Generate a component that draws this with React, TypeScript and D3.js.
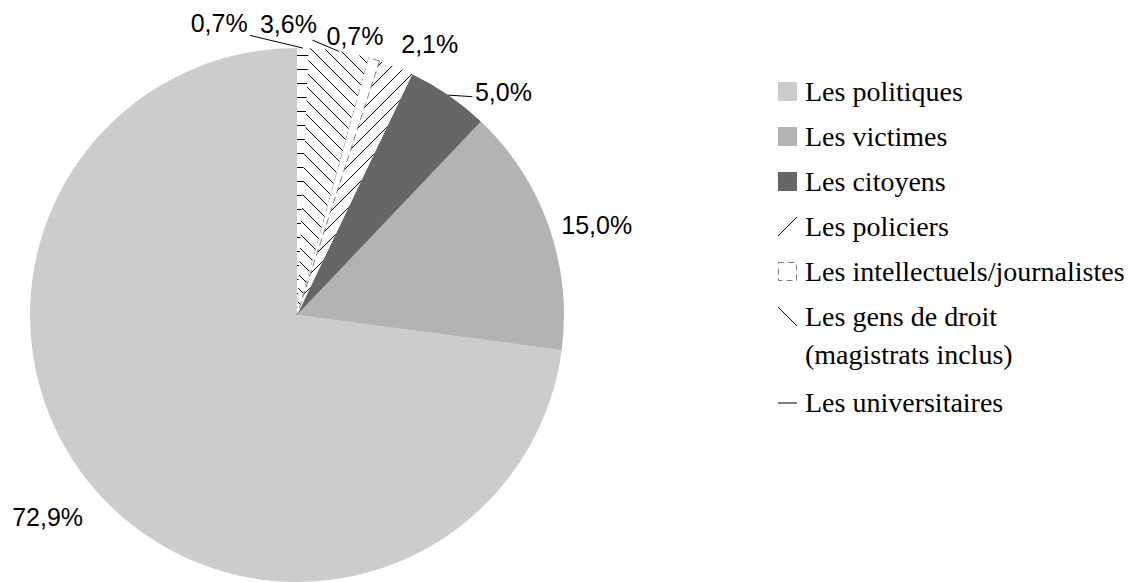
import React from "react";
import { pie, arc, format } from "d3";

// data
const categories = [
  "Les politiques",
  "Les victimes",
  "Les citoyens",
  "Les policiers",
  "Les intellectuels/journalistes",
  "Les gens de droit",
  "Les universitaires",
];
const legendLines = [
  ["Les politiques"],
  ["Les victimes"],
  ["Les citoyens"],
  ["Les policiers"],
  ["Les intellectuels/journalistes"],
  ["Les gens de droit", "(magistrats inclus)"],
  ["Les universitaires"],
];
const values = [72.9, 15.0, 5.0, 2.1, 0.7, 3.6, 0.7];

// styles per slice: plain fill or a hatch pattern
const fills = ["#cccccc", "#b3b3b3", "#666666", "url(#hatchUp)", "#ffffff", "url(#hatchDown)", "url(#hatchFlat)"];
const swatchKind = ["fill", "fill", "fill", "up", "dash", "down", "flat"];

// label placement: offset from slice mid angle (deg, clockwise) and radius
const labelShift = [2.2, 2.7, 8.2, 4.3, -5, -10.7, -16.2];
const labelRadius = [321, 313, 304, 302, 285, 291, 302];
const hasLeader = [false, false, true, false, false, true, true];

const W = 1144;
const H = 582;
const cx = 297;
const cy = 315;
const R = 267;

const serif = "'Liberation Serif', 'DejaVu Serif', 'Noto Serif', 'Times New Roman', Times, serif";
const sans = "'Liberation Sans', Arial, sans-serif";

const fmt = (v: number) => format(".1f")(v).replace(".", ",") + "%";
const deg = Math.PI / 180;

export default function App() {
  const arcs = pie<number>().sort(null).startAngle(0).endAngle(-2 * Math.PI)(values);
  const arcGen = arc<any>().innerRadius(0).outerRadius(R);

  const legendX = 778;
  const sw = 19;
  let rowY = 91.5;
  const rows = legendLines.map((lines, i) => {
    const y = rowY;
    rowY += 45 + (lines.length - 1) * 41;
    return { lines, y, i };
  });

  return (
    <svg width={W} height={H} style={{ position: "absolute", left: 0, top: 0, background: "#fff" }}>
      <defs>
        <pattern id="hatchUp" patternUnits="userSpaceOnUse" width={14} height={14}>
          <rect width={14} height={14} fill="#fff" />
          <path d="M0,14 L14,0 M-2,2 L2,-2 M12,16 L16,12" stroke="#000" strokeWidth={1} />
        </pattern>
        <pattern id="hatchDown" patternUnits="userSpaceOnUse" width={14} height={14}>
          <rect width={14} height={14} fill="#fff" />
          <path d="M0,0 L14,14 M-2,12 L2,16 M12,-2 L16,2" stroke="#000" strokeWidth={1} />
        </pattern>
        <pattern id="hatchFlat" patternUnits="userSpaceOnUse" width={14} height={14}>
          <rect width={14} height={14} fill="#fff" />
          <path d="M0,6.5 H14" stroke="#000" strokeWidth={1} />
        </pattern>
      </defs>

      <g transform={`translate(${cx},${cy})`}>
        {arcs.map((a, i) => (
          <path
            key={categories[i]}
            d={arcGen(a) as string}
            fill={fills[i]}
            stroke={swatchKind[i] === "dash" ? "#808080" : "none"}
            strokeDasharray={swatchKind[i] === "dash" ? "7,4" : undefined}
            strokeWidth={1}
          />
        ))}
        {arcs.map((a, i) => {
          const mid = (a.startAngle + a.endAngle) / 2;
          const la = mid + labelShift[i] * deg;
          const lx = labelRadius[i] * Math.sin(la);
          const ly = -labelRadius[i] * Math.cos(la);
          let leader = null;
          if (hasLeader[i]) {
            const sx = R * Math.sin(mid);
            const sy = -R * Math.cos(mid);
            const dx = sx - lx;
            const dy = sy - ly;
            const t = Math.min(31 / Math.abs(dx || 1e-6), 13 / Math.abs(dy || 1e-6));
            leader = (
              <line x1={sx} y1={sy} x2={lx + dx * t} y2={ly + dy * t + 3} stroke="#000" strokeWidth={1} />
            );
          }
          return (
            <g key={"l" + i}>
              {leader}
              <text x={lx} y={ly + 9} textAnchor="middle" style={{ fontFamily: sans, fontSize: 25 }} fill="#000">
                {fmt(values[i])}
              </text>
            </g>
          );
        })}
      </g>

      <g>
        {rows.map(({ lines, y, i }) => {
          const x0 = legendX;
          const y0 = y - sw / 2;
          let swatch;
          if (swatchKind[i] === "fill") {
            swatch = <rect x={x0} y={y0} width={sw} height={sw} fill={fills[i]} />;
          } else if (swatchKind[i] === "dash") {
            swatch = (
              <rect x={x0 + 0.5} y={y0 + 0.5} width={sw - 1} height={sw - 1} fill="#fff" stroke="#808080" strokeDasharray="6,4" />
            );
          } else if (swatchKind[i] === "up") {
            swatch = <line x1={x0} y1={y0 + sw} x2={x0 + sw} y2={y0} stroke="#000" />;
          } else if (swatchKind[i] === "down") {
            swatch = <line x1={x0} y1={y0} x2={x0 + sw} y2={y0 + sw} stroke="#000" />;
          } else {
            swatch = <line x1={x0} y1={y + 0.5} x2={x0 + sw} y2={y + 0.5} stroke="#000" />;
          }
          return (
            <g key={"lg" + i}>
              {swatch}
              <text x={805} y={y + 9} style={{ fontFamily: serif, fontSize: 28 }} fill="#000">
                {lines.map((ln, j) => (
                  <tspan key={j} x={805} dy={j === 0 ? 0 : 38}>
                    {ln}
                  </tspan>
                ))}
              </text>
            </g>
          );
        })}
      </g>
    </svg>
  );
}
